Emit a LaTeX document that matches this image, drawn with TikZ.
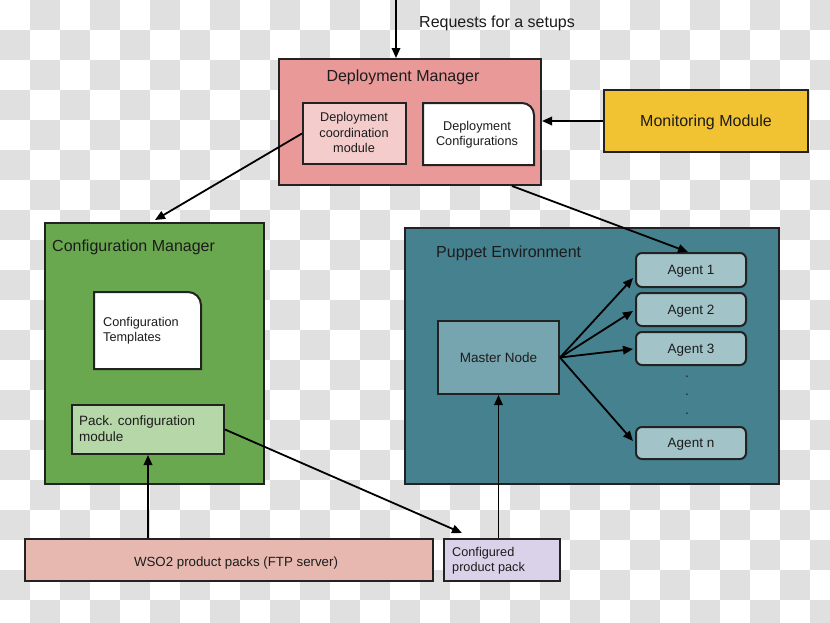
\documentclass[tikz,border=0pt]{standalone}
\usepackage{fontspec}
\setmainfont{Liberation Sans}
\usetikzlibrary{arrows.meta,calc}
\definecolor{checkc}{RGB}{224,224,224}
\definecolor{edgec}{RGB}{34,34,34}
\definecolor{txtc}{RGB}{28,28,28}
\definecolor{dmred}{HTML}{EA9999}
\definecolor{dcmpink}{HTML}{F4CCCC}
\definecolor{monyel}{HTML}{F1C232}
\definecolor{cmgreen}{HTML}{6AA84F}
\definecolor{pcmgreen}{HTML}{B6D7A8}
\definecolor{peteal}{HTML}{45818E}
\definecolor{mnteal}{HTML}{76A5AF}
\definecolor{agentc}{HTML}{A2C4C9}
\definecolor{wsoc}{HTML}{E6B8AF}
\definecolor{cppc}{HTML}{D9D2E9}
\begin{document}
\begin{tikzpicture}[x=1pt,y=-1pt,
  box/.style={draw=edgec,line width=2pt,inner sep=0pt,anchor=north west,text=txtc},
  shapeline/.style={draw=edgec,line width=2pt},
  lbl/.style={inner sep=0pt,text=txtc},
  fbig/.style={font=\fontsize{16}{19}\selectfont},
  fsmall/.style={font=\fontsize{12.7}{15.3}\selectfont},
  fmid/.style={font=\fontsize{13.5}{16}\selectfont},
  agent/.style={box,fill=agentc,rounded corners=6pt,minimum width=110pt,fmid,text depth=0pt},
  arr/.style={-{Triangle[length=10pt,width=8.5pt]},line width=1.8pt,draw=black},
]
\useasboundingbox (0,0) rectangle (830,622);
% checkered background
\begin{scope}
\clip (0,0) rectangle (830,622);
\fill[white] (0,0) rectangle (830,622);
\foreach \i in {1,3,...,27} \foreach \j in {0,2,...,20} \fill[checkc] (30*\i,30*\j) rectangle ++(30,30);
\foreach \i in {0,2,...,26} \foreach \j in {1,3,...,19} \fill[checkc] (30*\i,30*\j) rectangle ++(30,30);
\end{scope}

% Deployment Manager
\node[box,fill=dmred,minimum width=262pt,minimum height=126pt] (dm) at (278,58) {};
\node[lbl,fbig,anchor=base] (dmt) at (403,81) {Deployment Manager};
\node[box,fill=dcmpink,minimum width=103pt,minimum height=61pt] (dcm) at (302,102) {};
\node[lbl,fsmall,align=center] (dcmt) at (354,132.5) {Deployment\\coordination\\module};
\node[box,draw=none,minimum width=109pt,minimum height=60pt] (dc) at (423,103) {};
\draw[shapeline,fill=white] (dc.south west) -- (dc.north west) -- ([xshift=-12pt]dc.north east) arc[start angle=90,end angle=0,radius=12pt] -- (dc.south east) -- cycle;
\node[lbl,fsmall,align=center] (dct) at (477,134.5) {Deployment\\Configurations};

% Monitoring Module
\node[box,fill=monyel,minimum width=204pt,minimum height=62pt,fbig,text depth=0pt] (mon) at (603,89) {Monitoring Module};

% Configuration Manager
\node[box,fill=cmgreen,minimum width=219pt,minimum height=261pt] (cm) at (44,222) {};
\node[lbl,fbig,anchor=base west] (cmt) at (52,251) {Configuration Manager};
\node[box,draw=none,minimum width=105pt,minimum height=75pt] (ct) at (94,292) {};
\draw[shapeline,fill=white] (ct.south west) -- (ct.north west) -- ([xshift=-13pt]ct.north east) arc[start angle=90,end angle=0,radius=13pt] -- (ct.south east) -- cycle;
\node[lbl,fsmall,align=left,anchor=west] (ctt) at (103,331) {Configuration\\Templates};
\node[box,fill=pcmgreen,minimum width=152pt,minimum height=49pt] (pcm) at (71,404) {};
\node[lbl,fmid,align=left,anchor=west] (pcmt) at (79,428.5) {Pack. configuration\\module};

% Puppet Environment
\node[box,fill=peteal,minimum width=374pt,minimum height=256pt] (pe) at (404,227) {};
\node[lbl,fbig,anchor=base west] (pet) at (436,257) {Puppet Environment};
\node[box,fill=mnteal,minimum width=121pt,minimum height=73pt,fmid,text depth=0pt] (mn) at (437,320) {Master Node};
\node[agent,minimum height=34pt] (a1) at (635,252) {Agent 1};
\node[agent,minimum height=33pt] (a2) at (635,292) {Agent 2};
\node[agent,minimum height=33pt] (a3) at (635,331) {Agent 3};
\node[agent,minimum height=32pt] (an) at (635,426) {Agent n};
\node[lbl,fmid,anchor=base] (d1) at (687,377) {.};
\node[lbl,fmid,anchor=base] (d2) at (687,395.5) {.};
\node[lbl,fmid,anchor=base] (d3) at (687,414) {.};

% bottom boxes
\node[box,fill=wsoc,minimum width=408pt,minimum height=42pt] (wso) at (24,538) {};
\node[lbl,font=\fontsize{13.3}{16}\selectfont,anchor=base] (wsot) at (236,566) {WSO2 product packs (FTP server)};
\node[box,fill=cppc,minimum width=116pt,minimum height=42pt] (cpp) at (443,538) {};
\node[lbl,fsmall,align=left,anchor=west] (cppt) at (452,561) {Configured\\product pack};

% request label
\coordinate (req) at (396,0);
\node[lbl,fbig,anchor=base west] (reqt) at (419,27) {Requests for a setups};

% connectors
\draw[arr] (req) -- (req |- dm.north);
\draw[arr] (mon.west) -- (mon.west -| dm.east);
\draw[arr] (dcm.west) -- ($(cm.north west)+(111,-2)$);
\draw[arr] ($(dm.south west)+(234,0)$) -- ($(a1.north)+(-3,0)$);
\draw[arr] (mn.east) -- ($(a1.west)+(-2,8)$);
\draw[arr] (mn.east) -- ($(a2.west)+(-2,1.5)$);
\draw[arr] (mn.east) -- ($(a3.west)+(-2,0.5)$);
\draw[arr] (mn.east) -- ($(an.west)+(-2,-2)$);
\draw[arr] (mn.south |- cpp.north) -- (mn.south);
\draw[arr] (pcm.south |- wso.north) -- (pcm.south);
\draw[arr] (pcm.east) -- ($(cpp.north west)+(19,-5)$);
\end{tikzpicture}
\end{document}
